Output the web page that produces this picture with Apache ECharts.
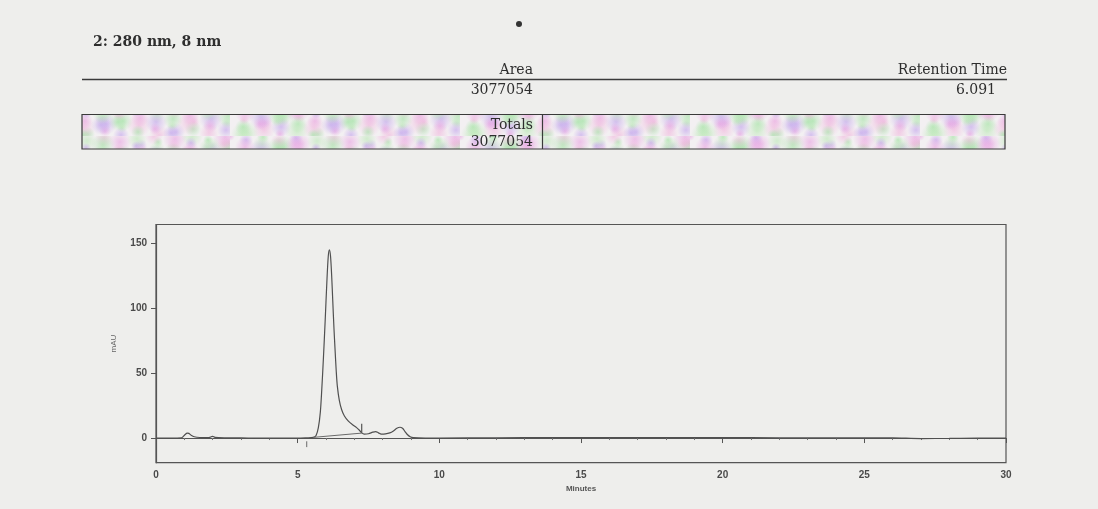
<!DOCTYPE html>
<html><head><meta charset="utf-8">
<script src="https://cdn.jsdelivr.net/npm/echarts@6/dist/echarts.min.js"></script>
<style>html,body{margin:0;padding:0;background:#eeeeec;}#c{width:1098px;height:509px;}</style>
</head><body><div id="c"></div>
<script>
// ---- data ----
var headerTitle = '2: 280 nm, 8 nm';
var areaLabel = 'Area';
var areaValue = '3077054';
var rtLabel = 'Retention Time';
var rtValue = '6.091';
var totalsLabel = 'Totals';
var totalsValue = '3077054';

var times = [0, 0.5, 0.9, 1.02, 1.1, 1.16, 1.24, 1.35, 1.55, 1.85, 1.95, 2.0, 2.08, 2.5, 3, 3.5, 4, 4.5, 5, 5.3, 5.55, 5.65, 5.73, 5.80, 5.85, 5.91, 5.97, 6.03, 6.08, 6.12, 6.16, 6.20, 6.24, 6.28, 6.32, 6.36, 6.40, 6.47, 6.55, 6.65, 6.79, 6.95, 7.08, 7.18, 7.26, 7.35, 7.5, 7.65, 7.75, 7.85, 7.95, 8.1, 8.25, 8.38, 8.5, 8.61, 8.7, 8.79, 8.88, 8.97, 9.08, 9.5, 10, 12, 14, 16, 18, 20, 22, 24, 26, 27, 28, 29, 30];
var signal = [0, 0, 0.2, 2.5, 3.8, 3.6, 2.2, 1.0, 0.4, 0.3, 1.0, 1.3, 0.5, 0.2, 0.1, 0, 0, 0, 0, 0.2, 0.5, 2, 8, 20, 37, 62, 90, 120, 140, 145, 140, 125, 105, 85, 68, 52, 40, 29, 22, 17, 13, 10, 8, 6, 4, 3, 3.3, 4.5, 5, 4, 3, 3.2, 4, 5.5, 7.5, 8.3, 7.5, 5, 2.5, 1, 0.3, 0, 0, 0.2, 0.3, 0.4, 0.3, 0.3, 0.2, 0.2, 0.1, -0.4, -0.3, 0, 0];

var baselineT = [5.55, 7.26];
var baselineV = [0.5, 3.8];
var startMarkT = [5.32, 5.32];
var startMarkV = [-2.5, -7];
var endMarkT = [7.26, 7.26];
var endMarkV = [4, 11];

var yTicks = [0, 50, 100, 150];

function pairs(a, b) { return a.map(function (t, i) { return [t, b[i]]; }); }

// decorative soft mottled fill for the Totals bar
var TW = 230, TH = 34;
var pc = document.createElement('canvas');
pc.width = TW; pc.height = TH;
var g = pc.getContext('2d');
g.fillStyle = '#f3f0f2'; g.fillRect(0, 0, TW, TH);
var cols = [[232, 160, 226], [160, 226, 162], [192, 160, 236], [240, 180, 220], [185, 232, 180]];
for (var i = 0; i < 80; i++) {
  var c = cols[i % cols.length];
  var cx = (i * 53) % TW, cy = (i * 11) % TH, r = 5 + (i * 7) % 8;
  var grad = g.createRadialGradient(cx, cy, 0, cx, cy, r);
  grad.addColorStop(0, 'rgba(' + c[0] + ',' + c[1] + ',' + c[2] + ',0.6)');
  grad.addColorStop(1, 'rgba(' + c[0] + ',' + c[1] + ',' + c[2] + ',0)');
  g.fillStyle = grad;
  g.fillRect(cx - r, cy - r, 2 * r, 2 * r);
}

var chart = echarts.init(document.getElementById('c'));
var serif = 'DejaVu Serif';
var txtCol = '#2e2e2e';
chart.setOption({
  backgroundColor: '#eeeeec',
  animation: false,
  grid: { left: 156, right: 92, top: 224.5, bottom: 46.3, show: true, borderColor: '#555', borderWidth: 1.2, backgroundColor: 'transparent' },
  xAxis: {
    type: 'value', min: 0, max: 30, interval: 5,
    name: 'Minutes', nameLocation: 'middle', nameGap: 22,
    nameTextStyle: { fontFamily: 'Liberation Sans', fontSize: 8, fontWeight: 'bold', color: '#555' },
    axisLine: { show: true, lineStyle: { color: '#555', width: 1.2 } },
    axisTick: { show: true, length: 5, lineStyle: { color: '#555' } },
    minorTick: { show: true, splitNumber: 5, length: 2, lineStyle: { color: '#777' } },
    axisLabel: { fontFamily: 'Liberation Sans', fontSize: 10, fontWeight: 'bold', color: '#4a4a4a', margin: 8 },
    splitLine: { show: false }
  },
  yAxis: {
    type: 'value', min: -19, max: 164.5,
    name: 'mAU', nameLocation: 'middle', nameGap: 38,
    nameTextStyle: { fontFamily: 'Liberation Sans', fontSize: 8, color: '#666' },
    axisLine: { show: true, lineStyle: { color: '#555', width: 1.2 } },
    axisTick: { show: true, length: 5, customValues: yTicks, lineStyle: { color: '#555' } },
    axisLabel: { customValues: yTicks, fontFamily: 'Liberation Sans', fontSize: 10, fontWeight: 'bold', color: '#4a4a4a', margin: 9 },
    splitLine: { show: false }
  },
  series: [
    { type: 'line', data: pairs(times, signal), showSymbol: false, smooth: 0.3, lineStyle: { color: '#505050', width: 1.2 } },
    { type: 'line', data: pairs(baselineT, baselineV), showSymbol: false, lineStyle: { color: '#6a6a6a', width: 1 } },
    { type: 'line', data: pairs(startMarkT, startMarkV), showSymbol: false, lineStyle: { color: '#6a6a6a', width: 1 } },
    { type: 'line', data: pairs(endMarkT, endMarkV), showSymbol: false, lineStyle: { color: '#555', width: 1.2 } }
  ],
  graphic: [
    { type: 'circle', shape: { cx: 519, cy: 24, r: 3 }, style: { fill: '#333' } },
    { type: 'text', x: 93, y: 42, style: { text: headerTitle, font: 'bold 14px "' + serif + '"', fill: txtCol, textVerticalAlign: 'middle' } },
    { type: 'line', shape: { x1: 82, y1: 79.5, x2: 1007, y2: 79.5 }, style: { stroke: '#3a3a3a', lineWidth: 1.5 } },
    { type: 'text', x: 533, y: 70, style: { text: areaLabel, font: '14px "' + serif + '"', fill: txtCol, textAlign: 'right', textVerticalAlign: 'middle' } },
    { type: 'text', x: 533, y: 90, style: { text: areaValue, font: '14px "' + serif + '"', fill: txtCol, textAlign: 'right', textVerticalAlign: 'middle' } },
    { type: 'text', x: 1007, y: 70, style: { text: rtLabel, font: '14px "' + serif + '"', fill: txtCol, textAlign: 'right', textVerticalAlign: 'middle' } },
    { type: 'text', x: 996, y: 90, style: { text: rtValue, font: '14px "' + serif + '"', fill: txtCol, textAlign: 'right', textVerticalAlign: 'middle' } },
    { type: 'rect', shape: { x: 82, y: 114.5, width: 923, height: 34.5 }, style: { fill: { image: pc, repeat: 'repeat' }, stroke: '#3a3a3a', lineWidth: 1.2 } },
    { type: 'line', shape: { x1: 542.5, y1: 114.5, x2: 542.5, y2: 149 }, style: { stroke: '#3a3a3a', lineWidth: 1.2 } },
    { type: 'text', x: 533, y: 125, style: { text: totalsLabel, font: '14px "' + serif + '"', fill: txtCol, textAlign: 'right', textVerticalAlign: 'middle' } },
    { type: 'text', x: 533, y: 142, style: { text: totalsValue, font: '14px "' + serif + '"', fill: txtCol, textAlign: 'right', textVerticalAlign: 'middle' } }
  ]
});
</script></body></html>
